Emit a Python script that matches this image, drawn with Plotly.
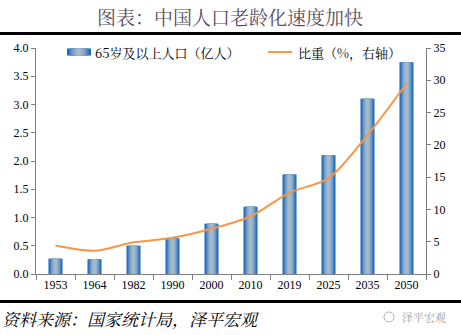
import plotly.graph_objects as go

years = ["1953", "1964", "1982", "1990", "2000", "2010", "2019", "2025", "2035", "2050"]
pop65 = [0.27, 0.26, 0.50, 0.63, 0.89, 1.19, 1.76, 2.10, 3.10, 3.75]
share = [4.4, 3.6, 4.9, 5.6, 7.0, 8.9, 12.6, 14.8, 21.5, 29.5]

title_text = "图表：中国人口老龄化速度加快"
bar_name = "65岁及以上人口（亿人）"
line_name = "比重（%，右轴）"
source_text = "资料来源：国家统计局，泽平宏观"
mark_text = "泽平宏观"

# simulated horizontal gradient: nested bars
grad_widths = [0.36, 0.30, 0.24, 0.18, 0.12, 0.06]
grad_colors = ["#1b68bd", "#3f7ec3", "#6594c5", "#83a5c8", "#98b1c9", "#a6bacb"]

W, H = 461, 335
L, R, T, B = 36, 35, 48, 61
pw, ph = W - L - R, H - T - B

def px_x(x):
    return (x - L) / pw

def px_y(y):
    return 1 - (y - T) / ph

fig = go.Figure()
for w, c in zip(grad_widths, grad_colors):
    fig.add_trace(go.Bar(x=years, y=pop65, width=w, marker=dict(color=c, line=dict(width=0)),
                         showlegend=False, hoverinfo="skip", yaxis="y"))
fig.add_trace(go.Scatter(x=years, y=share, mode="lines", line=dict(color="#f79646", width=2, shape="spline", smoothing=0.8),
                         showlegend=False, yaxis="y2"))

serif = "Liberation Serif, Times New Roman, serif"
cjk = "Noto Serif CJK SC, Noto Sans CJK SC, serif"

fig.update_layout(
    width=W, height=H,
    margin=dict(l=L, r=R, t=T, b=B),
    plot_bgcolor="white", paper_bgcolor="white",
    barmode="overlay",
    xaxis=dict(type="category", showline=True, linecolor="#808080", linewidth=1,
               ticks="outside", tickson="boundaries", ticklen=5, tickcolor="#808080",
               tickfont=dict(family=serif, size=12, color="black"), showgrid=False),
    yaxis=dict(range=[0, 4.0], dtick=0.5, tickformat=".1f", showline=True, linecolor="#808080",
               ticks="outside", ticklen=4, tickcolor="#808080", showgrid=False, zeroline=False,
               tickfont=dict(family=serif, size=12, color="black")),
    yaxis2=dict(range=[0, 35], dtick=5, overlaying="y", side="right", showline=True, linecolor="#808080",
                ticks="outside", ticklen=4, tickcolor="#808080", showgrid=False, zeroline=False,
                tickfont=dict(family=serif, size=12, color="black")),
    showlegend=False,
)

shapes = []
# thick rules
shapes.append(dict(type="line", xref="paper", yref="paper", x0=px_x(0), x1=px_x(W), y0=px_y(33.5), y1=px_y(33.5),
                   line=dict(color="black", width=3)))
shapes.append(dict(type="line", xref="paper", yref="paper", x0=px_x(0), x1=px_x(W), y0=px_y(301.5), y1=px_y(301.5),
                   line=dict(color="black", width=3)))
# legend swatch (gradient bar)
sx0, sx1, sy0, sy1 = 67, 91, 48.5, 55.5
n = len(grad_colors)
for i, c in enumerate(grad_colors):
    f = i / (2 * n)
    shapes.append(dict(type="rect", xref="paper", yref="paper",
                       x0=px_x(sx0 + (sx1 - sx0) * f), x1=px_x(sx1 - (sx1 - sx0) * f),
                       y0=px_y(sy1), y1=px_y(sy0), fillcolor=c, line=dict(width=0), layer="above"))
shapes.append(dict(type="line", xref="paper", yref="paper", x0=px_x(268), x1=px_x(292), y0=px_y(52), y1=px_y(52),
                   line=dict(color="#f79646", width=2)))
# watermark icon (small circle)
shapes.append(dict(type="circle", xref="paper", yref="paper", x0=px_x(384), x1=px_x(394), y0=px_y(322), y1=px_y(312),
                   line=dict(color="#b0b0b0", width=1)))
fig.update_layout(shapes=shapes)

annotations = [
    dict(text=title_text, xref="paper", yref="paper", x=px_x(230), y=px_y(16), showarrow=False,
         xanchor="center", yanchor="middle", font=dict(family=cjk, size=19, color="#5b4d5c")),
    dict(text=bar_name, xref="paper", yref="paper", x=px_x(93), y=px_y(52), showarrow=False,
         xanchor="left", yanchor="middle", font=dict(family=cjk, size=13, color="black")),
    dict(text=line_name, xref="paper", yref="paper", x=px_x(296), y=px_y(52), showarrow=False,
         xanchor="left", yanchor="middle", font=dict(family=cjk, size=13, color="black")),
    dict(text="<i>" + source_text + "</i>", xref="paper", yref="paper", x=px_x(0), y=px_y(318), showarrow=False,
         xanchor="left", yanchor="middle", font=dict(family=cjk, size=17, color="black")),
    dict(text=mark_text, xref="paper", yref="paper", x=px_x(400), y=px_y(317), showarrow=False,
         xanchor="left", yanchor="middle", font=dict(family=cjk, size=11, color="#9a9a9a")),
]
fig.update_layout(annotations=annotations)

fig.write_html("out.html")
